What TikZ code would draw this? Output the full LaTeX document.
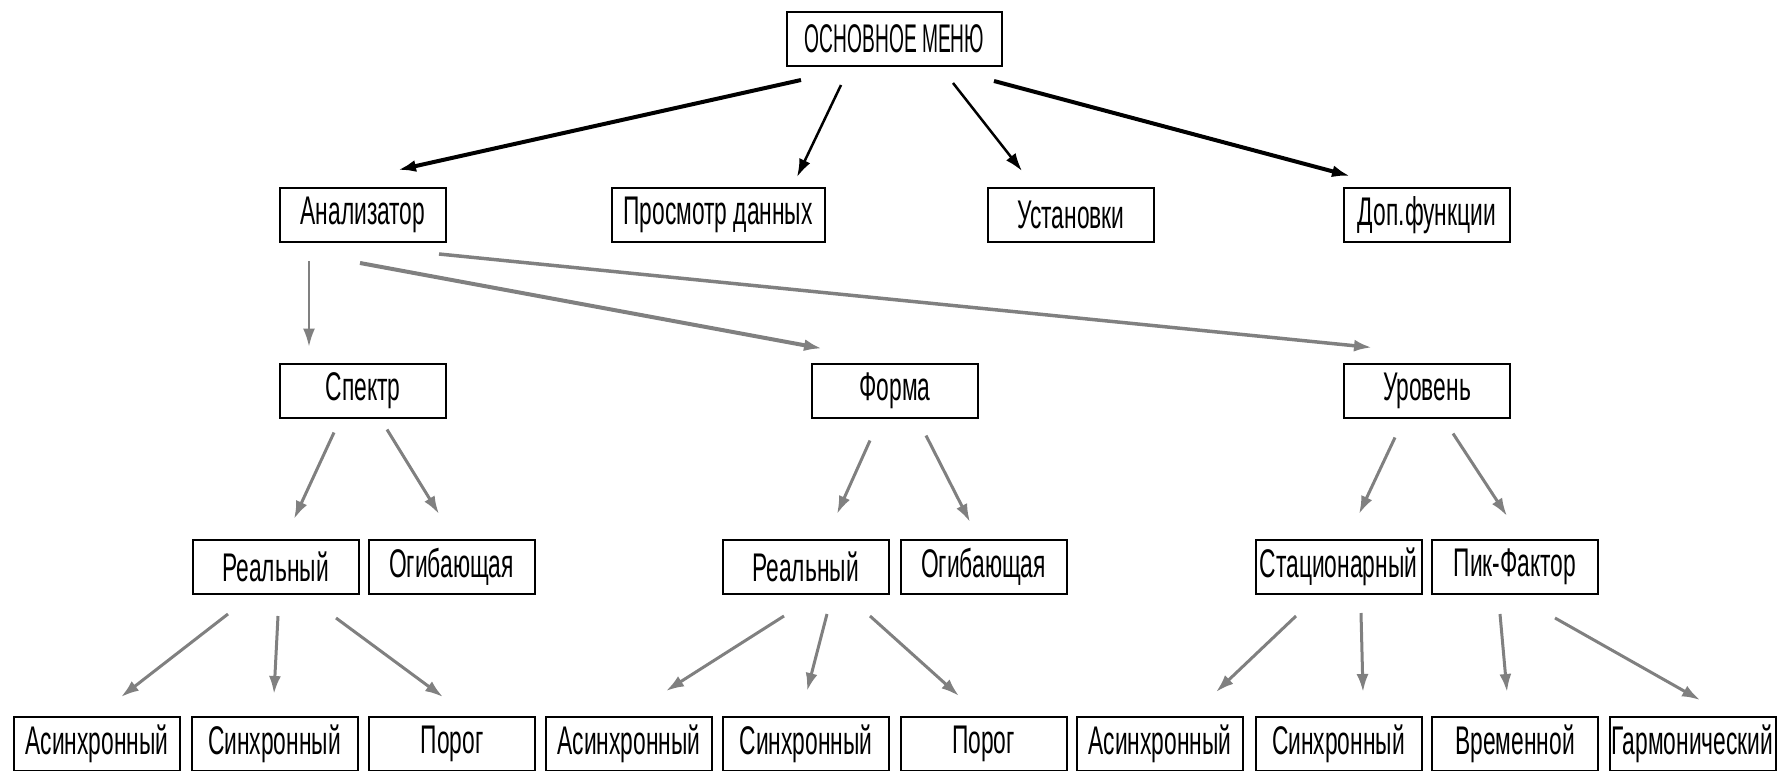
\documentclass[tikz,border=0pt]{standalone}
\usepackage{fontspec}
\setmainfont{Liberation Sans}[FakeStretch=0.57]
\newfontfamily\titrefont{Liberation Sans}[FakeStretch=0.48]
\usetikzlibrary{calc,arrows.meta}
\tikzset{boite/.style={
    draw, line width=1pt, minimum width=83pt, minimum height=27pt,
    inner sep=0pt, font=\fontsize{20}{22}\selectfont},
  noir/.style={-{Latex[length=9pt,width=6pt]}, black, line width=1.8pt},
  gris/.style={-{Latex[length=9pt,width=6pt]}, black!50, line width=1.5pt}}

\begin{document}
\begin{tikzpicture}[x=0.5pt,y=-0.5pt]
\useasboundingbox (0,0) rectangle (1778,771);

  % menu
\node[boite, minimum width=107.5pt, font=\titrefont\fontsize{20}{22}\selectfont] (menu) at (894.5,39) {ОСНОВНОЕ МЕНЮ};

  % niveau 1
\node[boite] (anal) at (363,215) {Анализатор};
\node[boite, minimum width=106.5pt] (prosm) at (718,215) {Просмотр данных};
\node[boite] (ustan) at (1071,215) {Установки};
\node[boite] (dop) at (1427,215) {Доп.функции};

  % niveau 2
\node[boite] (spektr) at (363,390.5) {Спектр};
\node[boite] (forma) at (895,390.5) {Форма};
\node[boite] (urov) at (1427,390.5) {Уровень};

  % niveau 3
\foreach \nom/\texte/\x in {real1/Реальный/275.5, ogib1/Огибающая/451.5,
  real2/Реальный/805.5, ogib2/Огибающая/983.5,
  stac/Стационарный/1338.5, pik/Пик-Фактор/1515}
  \node[boite] (\nom) at (\x,567) {\texte};

  % niveau 4
\foreach \nom/\texte/\x in {async1/Асинхронный/97, sync1/Синхронный/274.5,
  porog1/Порог/452, async2/Асинхронный/629, sync2/Синхронный/806,
  porog2/Порог/983.5, async3/Асинхронный/1160, sync3/Синхронный/1338.5,
  vrem/Временной/1515, garm/Гармонический/1692.5}
  \node[boite] (\nom) at (\x,744) {\texte};

  % fleches du menu
\draw[noir, line width=2pt] ($(menu.south)+(-93.5,13)$) -- ($(anal.north)+(35,-17)$);
\draw[noir, line width=1.25pt] ($(menu.south)+(-53.5,18)$) -- ($(prosm.north)+(79,-10)$);
\draw[noir, line width=1.25pt] ($(menu.south)+(58.5,16)$) -- ($(ustan.north)+(-49,-16)$);
\draw[noir, line width=2pt] ($(menu.south)+(99.5,14)$) -- ($(dop.north)+(-77,-11)$);

  % fleches grises
\draw[gris, line width=1pt] ($(anal.south)+(-54,18)$) -- ($(spektr.north)+(-54,-16)$);
\draw[gris, line width=2pt] ($(anal.south)+(-3,20)$) -- ($(forma.north)+(-73,-14)$);
\draw[gris, line width=1.75pt] ($(anal.south)+(76,11)$) -- ($(urov.north)+(-55,-15)$);
\foreach \a/\b/\sx/\sy/\ex/\ey in {
  spektr/real1/-29/14/18.5/-20, spektr/ogib1/24/11/-12.5/-25,
  real1/async1/-47.5/19/24/-19, real1/sync1/2.5/21/-0.5/-22,
  real1/porog1/60.5/23/-9/-19,
  forma/real2/-25/22/31.5/-25, forma/ogib2/31/17/-13.5/-17,
  real2/async2/-21.5/21/37/-25, real2/sync2/21.5/19/1/-25,
  real2/porog2/64.5/21/-24.5/-20,
  urov/stac/-32/19/20.5/-25, urov/pik/26/15/-8/-23,
  stac/async3/-42.5/21/56/-24, stac/sync3/22.5/18/24.5/-24,
  pik/vrem/-15/19/-8/-24, pik/garm/40/23/7.5/-16}
  \draw[gris] ($(\a.south)+(\sx,\sy)$) -- ($(\b.north)+(\ex,\ey)$);
\end{tikzpicture}
\end{document}
